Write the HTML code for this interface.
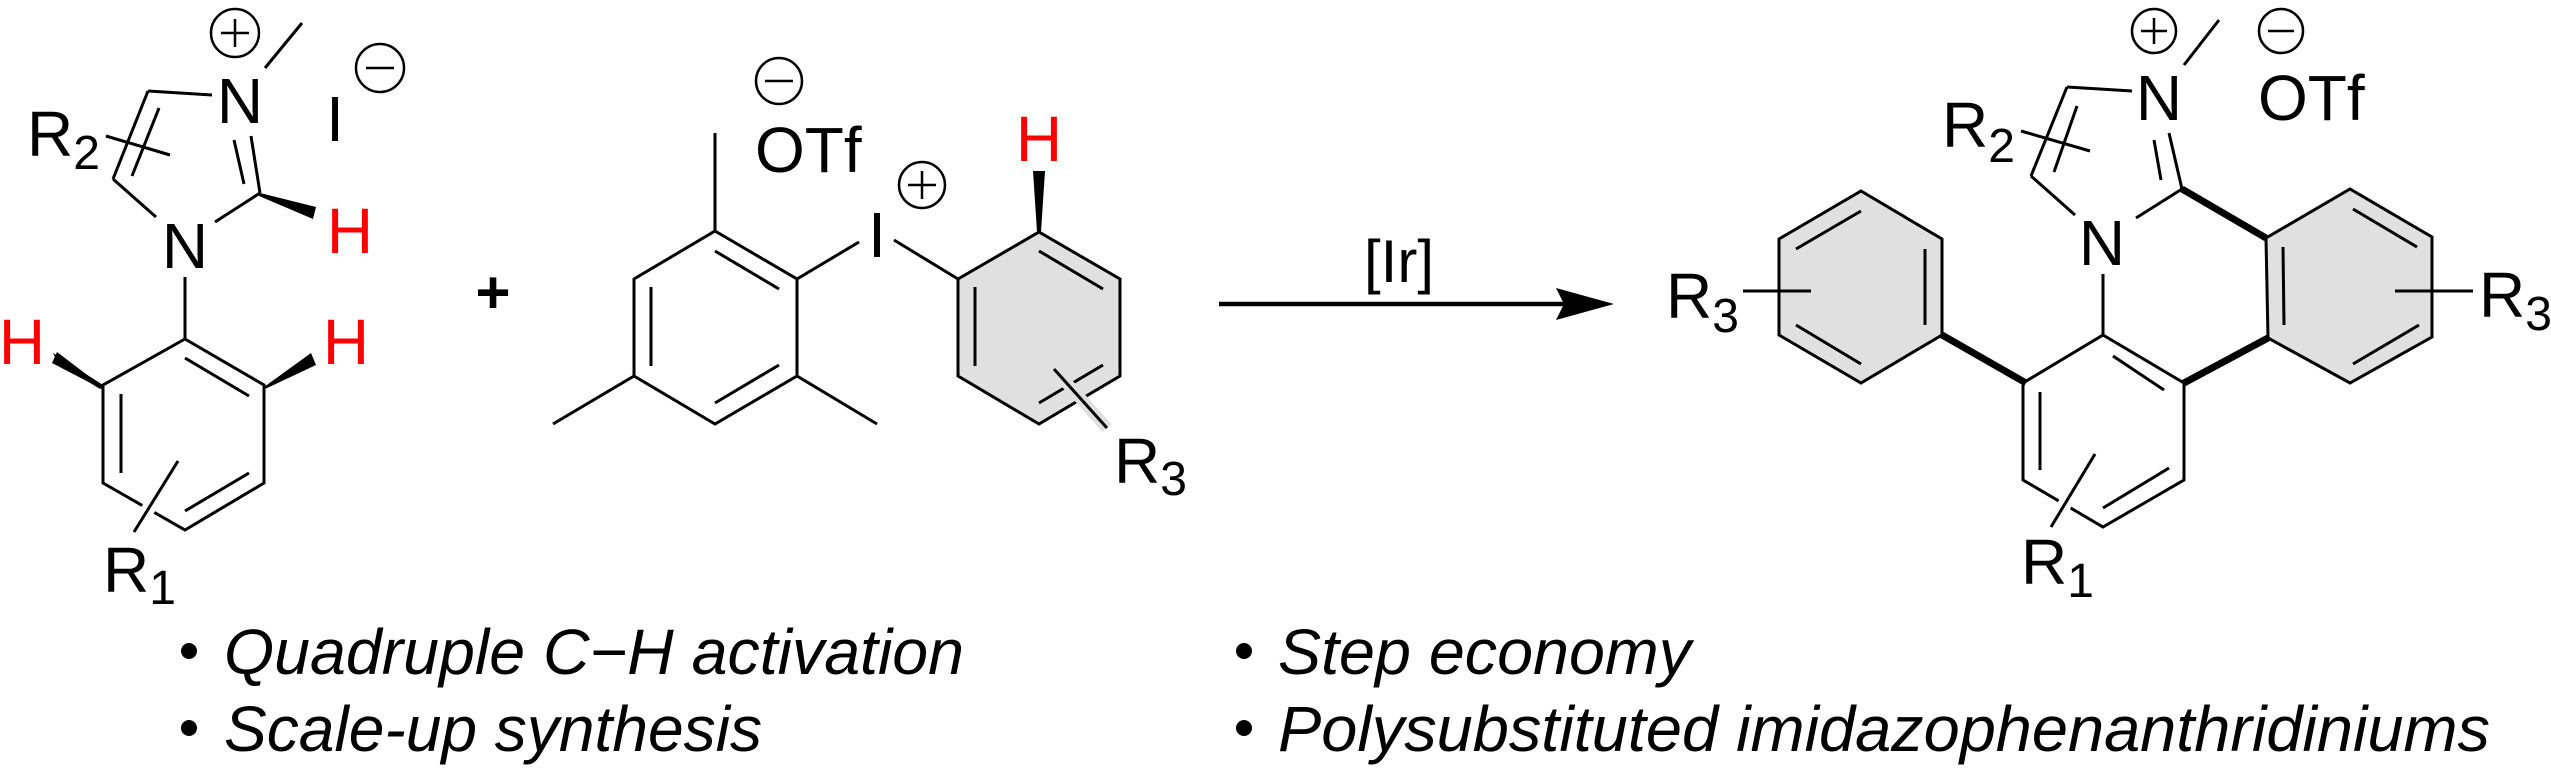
<!DOCTYPE html>
<html><head><meta charset="utf-8"><style>
html,body{margin:0;padding:0;background:#fff;}
svg{display:block;}
text{font-family:"Liberation Sans",Arial,sans-serif;}
</style></head><body>
<svg width="2551" height="769" viewBox="0 0 2551 769" xmlns="http://www.w3.org/2000/svg">
<g stroke="#000" stroke-width="3" fill="none" stroke-linecap="butt">
<!-- left benzene -->
<polygon points="185,339 264,385 264,483 185,530 103,483 103,385"/>
<line x1="185" y1="358" x2="249" y2="396"/>
<line x1="121" y1="394" x2="121" y2="473"/>
<line x1="185" y1="511" x2="249" y2="473"/>
<line x1="185" y1="277" x2="185" y2="339"/>
<!-- imidazole -->
<line x1="215" y1="222" x2="260" y2="193"/>
<line x1="260" y1="193" x2="251" y2="136"/>
<line x1="244" y1="184" x2="234" y2="140"/>
<line x1="148" y1="91" x2="212" y2="95"/>
<line x1="148" y1="91" x2="113" y2="179"/>
<line x1="159" y1="108" x2="132" y2="176"/>
<line x1="113" y1="179" x2="156" y2="217"/>
<line x1="265" y1="68" x2="302" y2="23"/>
<line x1="106" y1="136" x2="170" y2="155" />
<line x1="178" y1="461" x2="134" y2="532" stroke="#fff" stroke-width="14"/>
<line x1="178" y1="461" x2="134" y2="532"/>
<!-- mesityl -->
<polygon points="715,231 797,279 797,376 715,424 634,376 634,279"/>
<line x1="715" y1="251" x2="779" y2="289"/>
<line x1="651" y1="287" x2="651" y2="366"/>
<line x1="715" y1="403" x2="779" y2="365"/>
<line x1="715" y1="231" x2="715" y2="133"/>
<line x1="797" y1="376" x2="877" y2="424"/>
<line x1="634" y1="376" x2="553" y2="424"/>
<line x1="797" y1="279" x2="859" y2="242"/>
<line x1="894" y1="240" x2="958" y2="279"/>
<!-- aryl ring -->
<polygon points="958,279 1039,232 1120,279 1120,376 1039,424 958,376" fill="#e0e0e0"/>
<line x1="1039" y1="251" x2="1103" y2="289"/>
<line x1="975" y1="287" x2="975" y2="366"/>
<line x1="1039" y1="403" x2="1103" y2="365"/>
<line x1="1054" y1="369" x2="1107" y2="428" stroke="#e0e0e0" stroke-width="12"/>
<line x1="1054" y1="369" x2="1107" y2="428"/>
<!-- arrow -->
<line x1="1219" y1="304" x2="1570" y2="304" stroke-width="4.5"/>
<!-- product left ring -->
<polygon points="1861,191 1942,239 1942,335 1861,383 1779,335 1779,239" fill="#e0e0e0"/>
<line x1="1796" y1="249" x2="1861" y2="211"/>
<line x1="1925" y1="249" x2="1925" y2="325"/>
<line x1="1796" y1="325" x2="1861" y2="364"/>
<line x1="1743" y1="291" x2="1811" y2="291"/>
<!-- central ring -->
<polygon points="2103,335 2184,383 2184,480 2103,527 2023,480 2023,383"/>
<line x1="2113" y1="356" x2="2164" y2="390"/>
<line x1="2040" y1="392" x2="2040" y2="470"/>
<line x1="2103" y1="508" x2="2169" y2="468"/>
<line x1="2095" y1="454" x2="2051" y2="527" stroke="#fff" stroke-width="14"/>
<line x1="2095" y1="454" x2="2051" y2="527"/>
<line x1="2103" y1="335" x2="2103" y2="274"/>
<!-- product imidazole -->
<line x1="2136" y1="218" x2="2182" y2="189"/>
<line x1="2182" y1="189" x2="2169" y2="133"/>
<line x1="2161" y1="180" x2="2154" y2="140"/>
<line x1="2184" y1="65" x2="2219" y2="20"/>
<line x1="2067" y1="87" x2="2132" y2="91"/>
<line x1="2067" y1="87" x2="2031" y2="176"/>
<line x1="2077" y1="106" x2="2054" y2="172"/>
<line x1="2031" y1="176" x2="2075" y2="215"/>
<line x1="2021" y1="131" x2="2090" y2="151"/>
<!-- right ring -->
<polygon points="2266,238 2350,189 2432,237 2432,337 2350,383 2268,338" fill="#e0e0e0"/>
<line x1="2353" y1="209" x2="2417" y2="247"/>
<line x1="2283" y1="247" x2="2284" y2="325"/>
<line x1="2353" y1="364" x2="2419" y2="325"/>
<line x1="2395" y1="291" x2="2473" y2="291"/>
<!-- thick bonds -->
<g stroke-width="7">
<line x1="1942" y1="335" x2="2026" y2="383"/>
<line x1="2182" y1="189" x2="2266" y2="238"/>
<line x1="2184" y1="383" x2="2268" y2="338"/>
</g>
<!-- charge circles -->
<circle cx="235" cy="33" r="24" stroke-width="2.5"/>
<circle cx="380" cy="68" r="24" stroke-width="2.5"/>
<circle cx="779" cy="81" r="23" stroke-width="2.5"/>
<circle cx="922" cy="185" r="23" stroke-width="2.5"/>
<circle cx="2154" cy="31" r="22" stroke-width="2.5"/>
<circle cx="2281" cy="31" r="22" stroke-width="2.5"/>
<g stroke-width="2.5">
<line x1="221" y1="33" x2="249" y2="33"/><line x1="235" y1="19" x2="235" y2="47"/>
<line x1="366" y1="68" x2="394" y2="68"/>
<line x1="765" y1="81" x2="793" y2="81"/>
<line x1="908" y1="185" x2="936" y2="185"/><line x1="922" y1="171" x2="922" y2="199"/>
<line x1="2141" y1="31" x2="2167" y2="31"/><line x1="2154" y1="18" x2="2154" y2="44"/>
<line x1="2268" y1="31" x2="2294" y2="31"/>
</g>
</g>
<!-- wedges -->
<g fill="#000">
<polygon points="260,193 316,207 313,219 259,196"/>
<polygon points="103,385 53,353 58,363 100,389"/>
<polygon points="103,387 57,352 52,363 102,389"/>
<polygon points="264,387 311,353 316,365 265,389"/>
<polygon points="1037,232 1033,171 1045,171 1041,232"/>
<polygon points="1556,288 1614,304 1556,320 1564,304"/>
</g>
<!-- labels -->
<g font-size="64" fill="#000">
<text x="185" y="268" text-anchor="middle">N</text>
<text x="240" y="123" text-anchor="middle">N</text>
<text x="335" y="141" text-anchor="middle">I</text>
<text x="27" y="156">R<tspan font-size="48" dy="13">2</tspan></text>
<text x="103" y="592">R<tspan font-size="48" dy="12">1</tspan></text>
<text x="755" y="172">OTf</text>
<text x="877" y="257" text-anchor="middle">I</text>
<text x="1114" y="483">R<tspan font-size="48" dy="12">3</tspan></text>
<text x="1399" y="282" text-anchor="middle" font-size="60">[Ir]</text>
<text x="1666" y="318">R<tspan font-size="48" dy="14">3</tspan></text>
<text x="2102" y="265" text-anchor="middle">N</text>
<text x="2159" y="120" text-anchor="middle">N</text>
<text x="2258" y="120">OTf</text>
<text x="1942" y="147">R<tspan font-size="48" dy="15">2</tspan></text>
<text x="2021" y="584">R<tspan font-size="48" dy="13">1</tspan></text>
<text x="2479" y="317">R<tspan font-size="48" dy="13">3</tspan></text>
<text x="493" y="313" text-anchor="middle" font-weight="bold" font-size="60">+</text>
</g>
<g font-size="64" fill="#f00" text-anchor="middle">
<text x="350" y="253">H</text>
<text x="22" y="364">H</text>
<text x="346" y="364">H</text>
<text x="1039" y="161">H</text>
</g>
<g font-size="64" fill="#000" font-style="italic">
<circle cx="189" cy="651" r="8"/>
<circle cx="189" cy="728" r="8"/>
<circle cx="1244" cy="651" r="8"/>
<circle cx="1244" cy="728" r="8"/>
<text x="224" y="674" textLength="740" lengthAdjust="spacingAndGlyphs">Quadruple C−H activation</text>
<text x="224" y="751" textLength="538" lengthAdjust="spacingAndGlyphs">Scale-up synthesis</text>
<text x="1278" y="674" textLength="413" lengthAdjust="spacingAndGlyphs">Step economy</text>
<text x="1278" y="751" textLength="1212" lengthAdjust="spacingAndGlyphs">Polysubstituted imidazophenanthridiniums</text>
</g>
</svg>
</body></html>
